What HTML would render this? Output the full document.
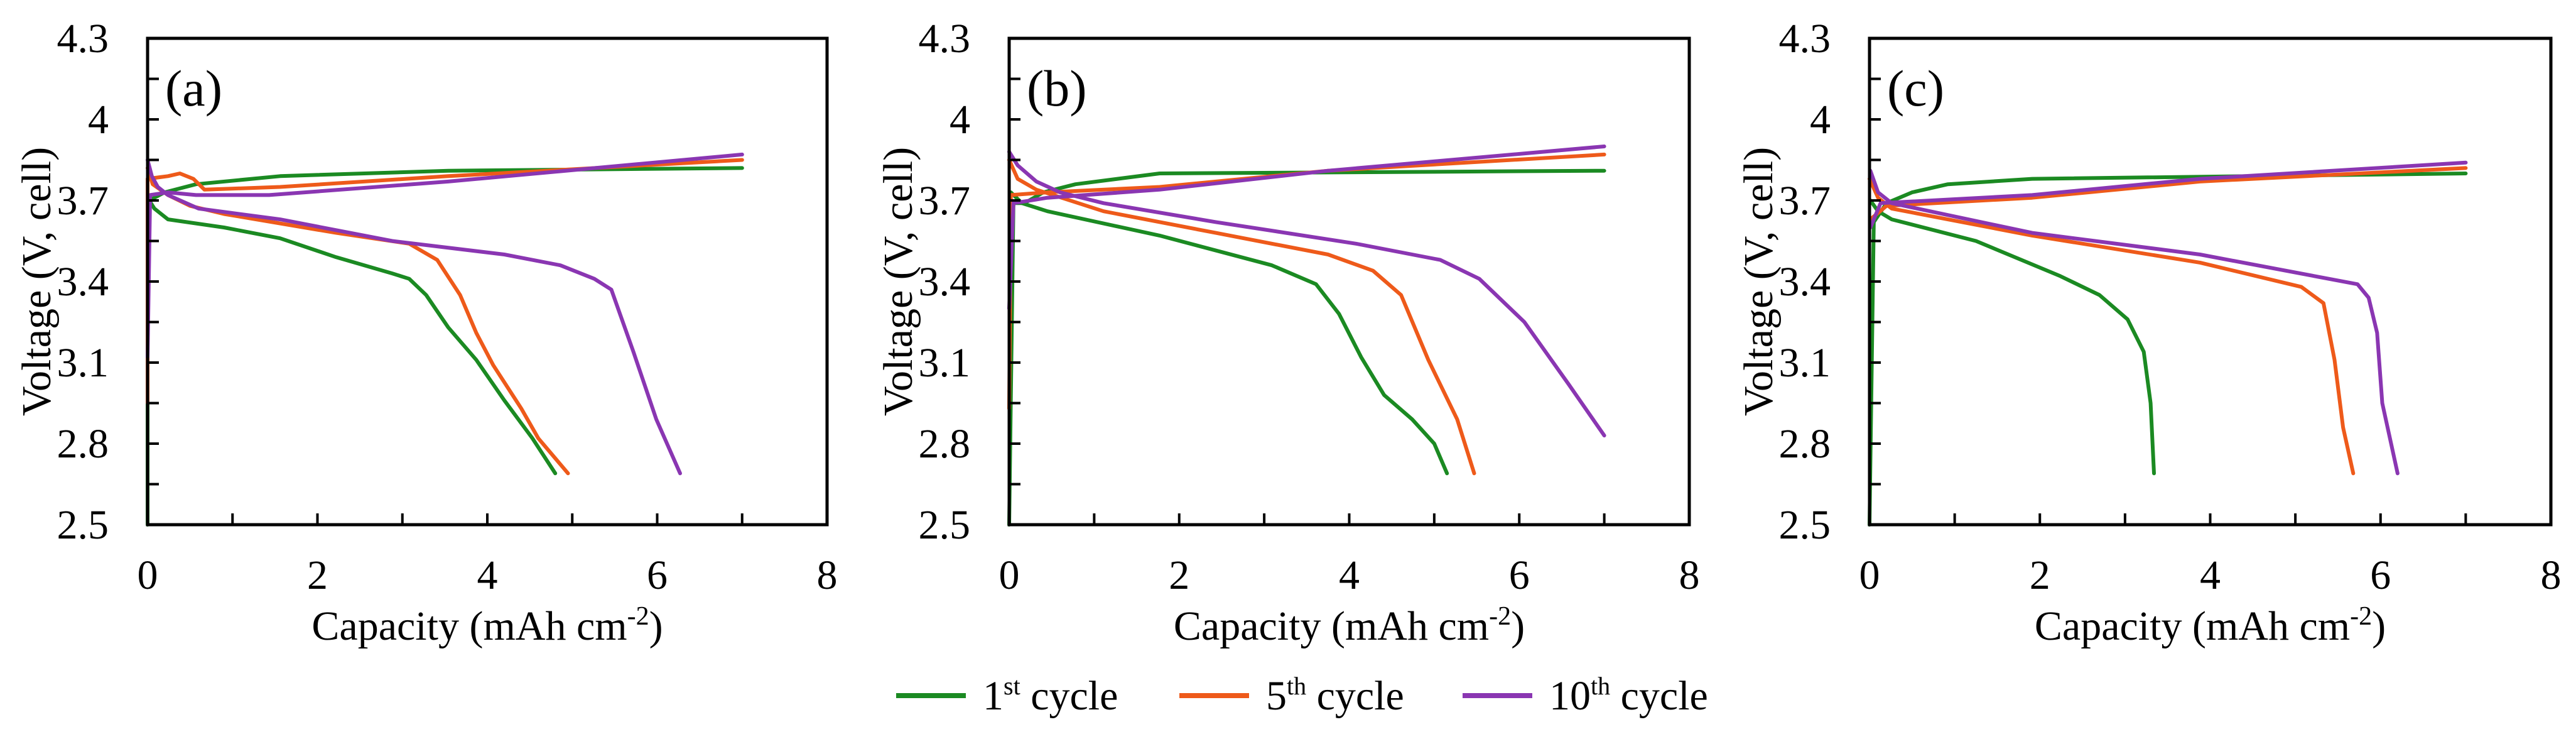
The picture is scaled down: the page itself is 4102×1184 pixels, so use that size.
<!DOCTYPE html>
<html><head><meta charset="utf-8"><style>
html,body{margin:0;padding:0;background:#fff;}
svg{display:block;font-family:"Liberation Serif",serif;}
</style></head><body>
<svg id="fig" width="4102" height="1184" viewBox="0 0 4102 1184"></svg>
<script>
const xTicks=[0,2,4,6,8];
const yTicks=[2.5,2.8,3.1,3.4,3.7,4,4.3];
const panelLabels=["(a)","(b)","(c)"];
const seriesNames=["1st cycle","5th cycle","10th cycle"];
// Panel (a)
const aG_dis_x=[0,0.08,0.24,0.9,1.56,2.22,2.88,3.08,3.28,3.54,3.87,4.2,4.53,4.8];
const aG_dis_y=[3.71,3.67,3.63,3.60,3.56,3.49,3.43,3.41,3.35,3.23,3.11,2.96,2.82,2.69];
const aG_ch_x=[0,0,0.02,0.2,0.57,1.56,3.54,7.0];
const aG_ch_y=[2.5,3.67,3.70,3.73,3.76,3.79,3.81,3.82];
const aO_dis_x=[0,0.06,0.24,0.5,0.9,2.22,3.08,3.41,3.68,3.87,4.07,4.4,4.6,4.95];
const aO_dis_y=[3.82,3.76,3.72,3.68,3.65,3.58,3.54,3.48,3.35,3.21,3.09,2.93,2.82,2.69];
const aO_ch_x=[0,0,0.24,0.38,0.54,0.67,1.56,3.54,7.0];
const aO_ch_y=[2.95,3.78,3.79,3.80,3.78,3.74,3.75,3.79,3.85];
const aP_dis_x=[0,0.05,0.12,0.24,0.6,1.56,2.88,4.2,4.86,5.26,5.46,5.72,5.99,6.27];
const aP_dis_y=[3.85,3.79,3.75,3.72,3.67,3.63,3.55,3.50,3.46,3.41,3.37,3.14,2.89,2.69];
const aP_ch_x=[0,0.03,0.24,0.57,1.43,3.54,7.0];
const aP_ch_y=[3.12,3.72,3.73,3.72,3.72,3.77,3.87];
// Panel (b)
const bG_dis_x=[0.02,0.15,0.45,1.77,3.09,3.61,3.88,4.14,4.41,4.74,5.0,5.15];
const bG_dis_y=[3.73,3.69,3.66,3.57,3.46,3.39,3.28,3.12,2.98,2.89,2.80,2.69];
const bG_ch_x=[0,0.05,0.18,0.4,0.78,1.77,7.0];
const bG_ch_y=[2.5,3.69,3.69,3.73,3.76,3.80,3.81];
const bO_dis_x=[0,0.1,0.32,1.11,2.43,3.75,4.28,4.61,4.93,5.27,5.47];
const bO_dis_y=[3.85,3.78,3.74,3.66,3.58,3.50,3.44,3.35,3.11,2.89,2.69];
const bO_ch_x=[0,0.02,0.45,1.77,3.75,7.0];
const bO_ch_y=[2.93,3.72,3.73,3.75,3.81,3.87];
const bP_dis_x=[0,0.1,0.32,0.6,1.11,2.43,4.08,5.07,5.53,6.06,6.58,7.0];
const bP_dis_y=[3.88,3.83,3.77,3.73,3.69,3.62,3.54,3.48,3.41,3.25,3.02,2.83];
const bP_ch_x=[0,0.05,0.45,1.77,3.75,7.0];
const bP_ch_y=[3.30,3.69,3.71,3.74,3.81,3.90];
// Panel (c)
const cG_dis_x=[0.01,0.1,0.26,1.25,2.24,2.7,3.03,3.22,3.3,3.34];
const cG_dis_y=[3.70,3.66,3.63,3.55,3.42,3.35,3.26,3.14,2.95,2.69];
const cG_ch_x=[0,0.05,0.2,0.5,0.92,1.91,7.0];
const cG_ch_y=[2.5,3.62,3.69,3.73,3.76,3.78,3.80];
const cO_dis_x=[0,0.1,0.26,1.91,3.88,5.07,5.33,5.46,5.56,5.68];
const cO_dis_y=[3.78,3.71,3.67,3.57,3.47,3.38,3.32,3.11,2.86,2.69];
const cO_ch_x=[0.01,0.2,1.91,3.88,7.0];
const cO_ch_y=[3.63,3.68,3.71,3.77,3.82];
const cP_dis_x=[0.01,0.1,0.26,1.91,3.88,5.73,5.86,5.96,6.02,6.2];
const cP_dis_y=[3.81,3.73,3.69,3.58,3.50,3.39,3.34,3.21,2.95,2.69];
const cP_ch_x=[0.01,0.13,1.91,3.88,7.0];
const cP_ch_y=[3.60,3.69,3.72,3.78,3.84];

const colors=["#1b8a22","#ee5a1a","#8a36b2"];
const panels=[
 {left:235,right:1317,series:[[aG_dis_x,aG_dis_y,0],[aG_ch_x,aG_ch_y,0],[aO_dis_x,aO_dis_y,1],[aO_ch_x,aO_ch_y,1],[aP_dis_x,aP_dis_y,2],[aP_ch_x,aP_ch_y,2]]},
 {left:1607,right:2690,series:[[bG_dis_x,bG_dis_y,0],[bG_ch_x,bG_ch_y,0],[bO_dis_x,bO_dis_y,1],[bO_ch_x,bO_ch_y,1],[bP_dis_x,bP_dis_y,2],[bP_ch_x,bP_ch_y,2]]},
 {left:2977,right:4062,series:[[cG_dis_x,cG_dis_y,0],[cG_ch_x,cG_ch_y,0],[cO_dis_x,cO_dis_y,1],[cO_ch_x,cO_ch_y,1],[cP_dis_x,cP_dis_y,2],[cP_ch_x,cP_ch_y,2]]}
];
const TOP=61,BOT=835;
const NS="http://www.w3.org/2000/svg";
const svg=document.getElementById('fig');
function mk(tag,attrs,parent){const e=document.createElementNS(NS,tag);for(const k in attrs)e.setAttribute(k,attrs[k]);(parent||svg).appendChild(e);return e;}
panels.forEach((p,pi)=>{
 const g=mk('g',{});
 
 
 const sx=v=>p.left+(v/8)*(p.right-p.left);
 const sy=v=>TOP+(4.3-v)/1.8*(BOT-TOP);
 p.series.forEach((s,si)=>{
  const d=s[0].map((x,i)=>(i?'L':'M')+sx(x).toFixed(1)+','+sy(s[1][i]).toFixed(1)).join(' ');
  const path=mk('path',{d:d,fill:'none',stroke:colors[s[2]],'stroke-width':6,'stroke-linejoin':'round','stroke-linecap':'round'},g);
  
  
 });
 const fr=mk('rect',{x:p.left,y:TOP,width:p.right-p.left,height:BOT-TOP,fill:'none',stroke:'#000','stroke-width':5},g);
 
 
 for(let v=1;v<8;v++){mk('line',{x1:sx(v),x2:sx(v),y1:BOT,y2:BOT-18,stroke:'#000','stroke-width':4},g);}
 for(let v=2.65;v<4.3;v+=0.15){mk('line',{x1:p.left,x2:p.left+18,y1:sy(v),y2:sy(v),stroke:'#000','stroke-width':4},g);}
 xTicks.forEach(v=>{const t=mk('text',{x:sx(v),y:937,'font-size':66,'text-anchor':'middle'},g);t.textContent=v;
  
  });
 yTicks.forEach(v=>{const t=mk('text',{x:p.left-62,y:sy(v)+22,'font-size':66,'text-anchor':'end'},g);t.textContent=v;
  
  });
 const xt=mk('text',{x:(p.left+p.right)/2,y:1018,'font-size':66,'text-anchor':'middle'},g);
 xt.innerHTML='Capacity (mAh cm<tspan dy="-24" font-size="42">-2</tspan><tspan dy="24">)</tspan>';
 
 
 const yt=mk('text',{x:0,y:0,'font-size':66,'text-anchor':'middle',transform:`translate(${p.left-155},${(TOP+BOT)/2}) rotate(-90)`},g);
 yt.textContent='Voltage (V, cell)';
 
 
 const pl=mk('text',{x:p.left+28,y:168,'font-size':82},g);
 pl.textContent=panelLabels[pi];
 
 
});
const leg=mk('g',{});


const legX=[1427,1878,2329];
const sup=["st","th","th"],num=["1","5","10"];
legX.forEach((x,i)=>{
 const ln=mk('line',{x1:x,x2:x+111,y1:1107,y2:1107,stroke:colors[i],'stroke-width':8},leg);
 
 
 const t=mk('text',{x:x+138,y:1129,'font-size':66},leg);
 t.innerHTML=num[i]+'<tspan dy="-24" font-size="40">'+sup[i]+'</tspan><tspan dy="24"> cycle</tspan>';
 
 
});
</script>
</body></html>
